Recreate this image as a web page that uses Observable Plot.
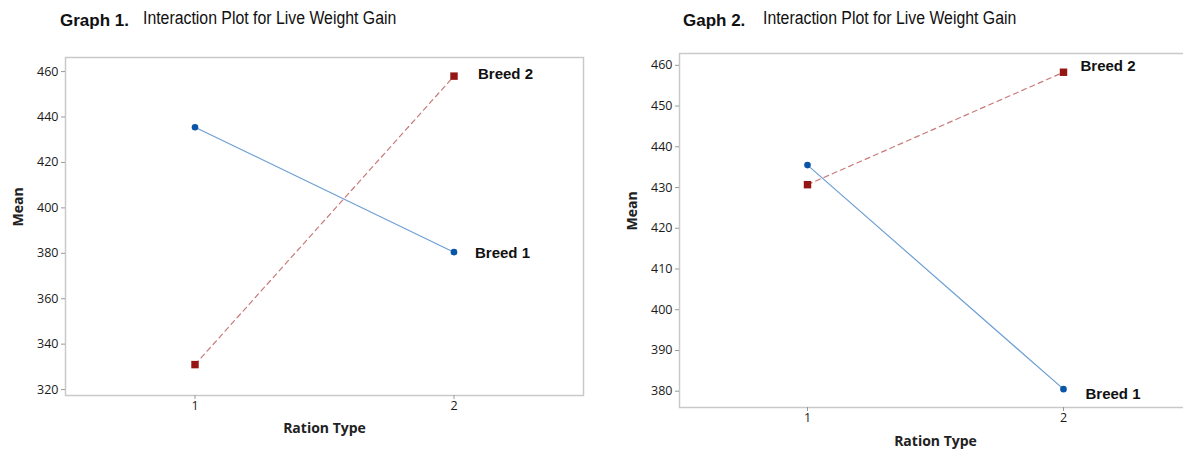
<!DOCTYPE html>
<html>
<head>
<meta charset="utf-8">
<script src="https://cdn.jsdelivr.net/npm/d3@7"></script>
<script src="https://cdn.jsdelivr.net/npm/@observablehq/plot@0.6"></script>
<style>
  html, body { margin: 0; padding: 0; background: #fff; }
  body { width: 1183px; height: 450px; overflow: hidden; position: relative; font-family: "Open Sans", sans-serif; }
  .ttl { position: absolute; white-space: nowrap; color: #111; transform-origin: left center; }
  .num { font-family: "Liberation Sans", Arial, sans-serif; font-weight: bold; font-size: 17px; }
  .main { font-family: "Liberation Sans", Arial, sans-serif; font-size: 18px; transform: scaleX(0.88); }
  svg.plot { position: absolute; overflow: visible; }
</style>
</head>
<body>
<div class="ttl num" id="n1" style="left:60px; top:11px;"></div>
<div class="ttl main" id="t1" style="left:143px; top:8px;"></div>
<div class="ttl num" id="n2" style="left:683px; top:11px;"></div>
<div class="ttl main" id="t2" style="left:763px; top:8px;"></div>
<script>
// ---- data ----
const rationTypes = [1, 2];
const seriesNames = ["Breed 1", "Breed 2"];
const g1Breed1 = [435.5, 380.5];
const g1Breed2 = [331, 458];
const g2Breed1 = [435.5, 380.5];
const g2Breed2 = [430.7, 458.3];
const g1YTicks = [320, 340, 360, 380, 400, 420, 440, 460];
const g2YTicks = [380, 390, 400, 410, 420, 430, 440, 450, 460];
const xTicks = [1, 2];
const graphNumbers = ["Graph 1.", "Gaph 2."];
const graphTitle = "Interaction Plot for Live Weight Gain";
const yLabel = "Mean";
const xLabel = "Ration Type";

document.getElementById("n1").textContent = graphNumbers[0];
document.getElementById("n2").textContent = graphNumbers[1];
document.getElementById("t1").textContent = graphTitle;
document.getElementById("t2").textContent = graphTitle;

function rows(b1, b2) {
  const out = [];
  rationTypes.forEach((r, i) => out.push({series: seriesNames[0], ration: r, mean: b1[i]}));
  rationTypes.forEach((r, i) => out.push({series: seriesNames[1], ration: r, mean: b2[i]}));
  return out;
}

const blueLine = "#6e9fd6", blueDot = "#0b55a8";
const redLine = "#c97a7a", redDot = "#951515";

function makePlot(cfg) {
  const data = rows(cfg.b1, cfg.b2);
  const b1 = data.filter(d => d.series === seriesNames[0]);
  const b2 = data.filter(d => d.series === seriesNames[1]);
  const last1 = b1[b1.length - 1], last2 = b2[b2.length - 1];
  const svg = Plot.plot({
    width: cfg.width,
    height: cfg.height,
    marginTop: cfg.mt,
    marginBottom: cfg.mb,
    marginLeft: cfg.ml,
    marginRight: cfg.mr,
    style: {fontFamily: "'Open Sans', sans-serif", fontSize: "12.5px", color: "#222", background: "transparent"},
    x: {domain: [0.5, 2.5]},
    y: {domain: cfg.ydomain},
    marks: [
      Plot.frame({stroke: "#c9c9c9", strokeWidth: 1.5}),
      Plot.axisY({ticks: cfg.yticks, tickSize: 4, tickPadding: 3, label: null, stroke: "#999", fill: "#1a1a1a"}),
      Plot.axisX({ticks: xTicks, tickSize: 4, tickPadding: 2, tickFormat: d3.format("d"), label: null, stroke: "#999", fill: "#1a1a1a"}),
      Plot.line(b1, {x: "ration", y: "mean", stroke: blueLine, strokeWidth: 1.2}),
      Plot.line(b2, {x: "ration", y: "mean", stroke: redLine, strokeWidth: 1.2, strokeDasharray: "5,4"}),
      Plot.dot(b1, {x: "ration", y: "mean", symbol: "circle", r: 3.3, fill: blueDot}),
      Plot.dot(b2, {x: "ration", y: "mean", symbol: "square", r: 4.2, fill: redDot}),
      Plot.text([last2], {x: "ration", y: "mean", text: "series", textAnchor: "start", dx: cfg.l2dx, dy: cfg.l2dy, fontFamily: "'Liberation Sans', Arial, sans-serif", fontWeight: "bold", fontSize: 15, fill: "#111"}),
      Plot.text([last1], {x: "ration", y: "mean", text: "series", textAnchor: "start", dx: cfg.l1dx, dy: cfg.l1dy, fontFamily: "'Liberation Sans', Arial, sans-serif", fontWeight: "bold", fontSize: 15, fill: "#111"}),
      Plot.text([yLabel], {frameAnchor: "left", dx: -47, rotate: -90, text: d => d, fontWeight: "bold", fontSize: 14, fill: "#222"}),
      Plot.text([xLabel], {frameAnchor: "bottom", dy: cfg.xldy, text: d => d, fontWeight: "bold", fontSize: 14, fill: "#222"})
    ]
  });
  svg.classList.add("plot");
  svg.style.left = cfg.left + "px";
  svg.style.top = cfg.top + "px";
  document.body.appendChild(svg);
}

makePlot({
  b1: g1Breed1, b2: g1Breed2, yticks: g1YTicks, ydomain: [317.4, 466.2],
  width: 600, height: 400, left: 0, top: 45, mt: 12, mb: 50, ml: 65, mr: 17,
  l1dx: 21, l1dy: 1, l2dx: 24, l2dy: -2, xldy: 37
});
makePlot({
  b1: g2Breed1, b2: g2Breed2, yticks: g2YTicks, ydomain: [376, 462.9],
  width: 600, height: 410, left: 600, top: 40, mt: 13, mb: 43, ml: 79, mr: 9,
  l1dx: 22, l1dy: 5, l2dx: 17, l2dy: -6, xldy: 38
});
</script>
</body>
</html>
